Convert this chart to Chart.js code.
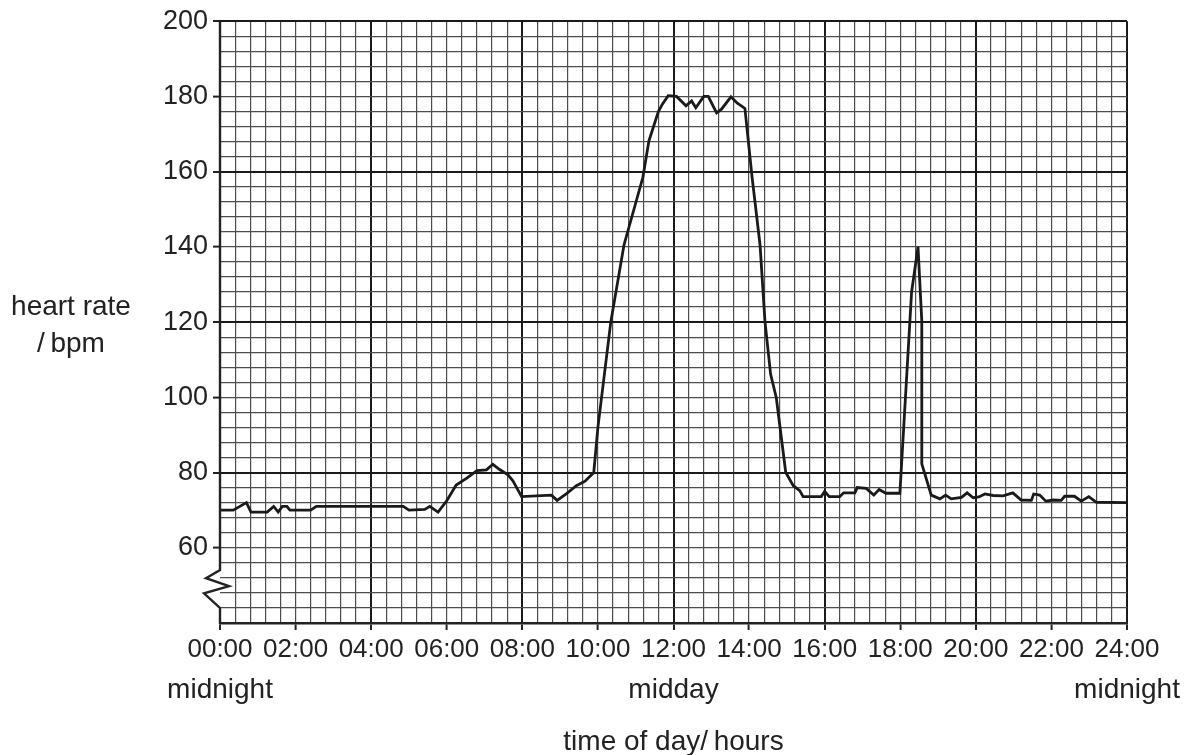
<!DOCTYPE html>
<html>
<head>
<meta charset="utf-8">
<title>heart rate over a day</title>
<script src="https://cdn.jsdelivr.net/npm/chart.js"></script>
<style>
  html, body { margin: 0; padding: 0; background: #fff; }
  canvas { display: block; }
</style>
</head>
<body>
<canvas id="hr" width="1194" height="755"></canvas>
<script>
// time of day in hours
const hours = [
  0, 0.35, 0.7, 0.82, 1.25, 1.42, 1.54, 1.65, 1.77, 1.85, 2.4, 2.55, 4.85, 5.0, 5.42, 5.55, 5.77,
  6.0, 6.25, 6.54, 6.8, 7.05, 7.22, 7.4, 7.62, 7.75, 7.98, 8.77, 8.92, 9.17, 9.43, 9.66, 9.89,
  10.0, 10.34, 10.69, 11.19, 11.35, 11.6, 11.71, 11.86, 12.08, 12.33, 12.48, 12.59, 12.8, 12.92,
  13.14, 13.27, 13.52, 13.69, 13.89, 14.08, 14.29, 14.42, 14.57, 14.72, 14.97, 15.17, 15.34, 15.43,
  15.91, 16.0, 16.12, 16.4, 16.5, 16.8, 16.86, 17.1, 17.3, 17.44, 17.62, 17.99, 18.3, 18.47,
  18.57, 18.57, 18.82, 19.05, 19.2, 19.35, 19.62, 19.77, 19.93, 20.08, 20.24, 20.46, 20.72, 20.98,
  21.2, 21.47, 21.53, 21.69, 21.85, 22.05, 22.26, 22.35, 22.61, 22.79, 22.99, 23.19, 24
];
// heart rate in bpm at each of those times
const bpm = [
  70, 70, 72, 69.5, 69.5, 71, 69.5, 71, 71, 70, 70, 71, 71, 70, 70.2, 71, 69.5,
  72.5, 76.7, 78.6, 80.5, 80.7, 82.2, 80.8, 79.4, 77.8, 73.6, 74, 72.6, 74.4, 76.5, 77.7, 80,
  92, 120, 140.5, 158.5, 168.2, 176, 178, 180.2, 180, 177.5, 178.8, 177, 180, 180,
  175.6, 176.6, 179.9, 178.2, 176.8, 158.5, 140.5, 120.2, 106.1, 99.9, 80, 76.5, 75.2, 73.6,
  73.6, 75, 73.6, 73.6, 74.6, 74.6, 76, 75.8, 74, 75.5, 74.5, 74.5, 128, 140,
  120.3, 82.3, 74, 73, 74, 73, 73.4, 74.6, 73.3, 73.5, 74.3, 73.9, 73.8, 74.6,
  72.7, 72.6, 74.3, 74, 72.4, 72.7, 72.6, 73.7, 73.7, 72.4, 73.6, 72.1, 72
];

// axis ranges and labels
const xMin = 0, xMax = 24, xLabelStep = 2, xMinorStep = 0.4;
const yMin = 40, yMax = 200, yLabelStep = 20, yMinorStep = 4;
const yLabelFrom = 60;
const xSideLabels = [[0, 'midnight'], [12, 'midday'], [24, 'midnight']];
const xTitle = 'time of day/\u2009hours';
const yTitle = ['heart rate', '/\u2009bpm'];

const FONT = '"Liberation Sans", Arial, sans-serif';
const INK = '#222';
const MINOR = '#4d4d4d';

function near(v, step) {
  const q = v / step;
  return Math.abs(q - Math.round(q)) < 1e-6;
}

function stepTicks(min, max, step) {
  const out = [];
  const n = Math.round((max - min) / step);
  for (let i = 0; i <= n; i++) out.push({ value: +(min + i * step).toFixed(6) });
  return out;
}

// y axis drawn by hand so it can carry the break zigzag
const axisBreak = {
  id: 'axisBreak',
  afterDraw(chart) {
    const { ctx, scales: { x, y } } = chart;
    const x0 = x.getPixelForValue(xMin);
    ctx.save();
    ctx.strokeStyle = INK;
    ctx.lineWidth = 2.4;
    ctx.lineJoin = 'miter';
    ctx.beginPath();
    ctx.moveTo(x0, y.getPixelForValue(yMax));
    ctx.lineTo(x0, y.getPixelForValue(54.1));
    ctx.lineTo(x0 - 14, y.getPixelForValue(51.9));
    ctx.lineTo(x0 + 9, y.getPixelForValue(49.8));
    ctx.lineTo(x0 - 16, y.getPixelForValue(47.9));
    ctx.lineTo(x0, y.getPixelForValue(44));
    ctx.lineTo(x0, y.getPixelForValue(yMin) + 1);
    ctx.stroke();
    ctx.restore();
  }
};

const extraText = {
  id: 'extraText',
  afterDraw(chart) {
    const { ctx, chartArea, scales: { x } } = chart;
    ctx.save();
    ctx.fillStyle = INK;
    ctx.font = '28px ' + FONT;
    ctx.textAlign = 'center';
    ctx.textBaseline = 'alphabetic';
    xSideLabels.forEach(([v, t]) => {
      ctx.fillText(t, x.getPixelForValue(v), chartArea.bottom + 75);
    });
    ctx.fillText(xTitle, x.getPixelForValue(12), chartArea.bottom + 127);
    ctx.fillText(yTitle[0], 71, 315);
    ctx.fillText(yTitle[1], 71, 352);
    ctx.restore();
  }
};

new Chart(document.getElementById('hr'), {
  type: 'line',
  data: {
    datasets: [{
      data: hours.map((h, i) => ({ x: h, y: bpm[i] })),
      borderColor: '#1a1a1a',
      borderWidth: 2.8,
      pointRadius: 0,
      tension: 0,
      fill: false
    }]
  },
  options: {
    responsive: false,
    animation: false,
    devicePixelRatio: 1,
    layout: { padding: { top: 18, right: 67, left: 0, bottom: 0 } },
    plugins: { legend: { display: false }, tooltip: { enabled: false } },
    scales: {
      x: {
        type: 'linear',
        min: xMin,
        max: xMax,
        afterBuildTicks: s => { s.ticks = stepTicks(xMin, xMax, xMinorStep); },
        afterFit: s => { s.height = 132; },
        border: { display: true, color: INK, width: 2.4 },
        grid: {
          color: c => c.tick.value === xMin ? 'rgba(0,0,0,0)' : (near(c.tick.value, 4) ? '#1a1a1a' : MINOR),
          lineWidth: c => near(c.tick.value, 4) ? 2 : 1.2,
          tickColor: c => near(c.tick.value, xLabelStep) ? INK : 'rgba(0,0,0,0)',
          tickLength: 7,
          tickWidth: 2
        },
        ticks: {
          autoSkip: false,
          maxRotation: 0,
          padding: 4,
          color: INK,
          font: { family: FONT, size: 26 },
          callback: v => near(v, xLabelStep) ? String(Math.round(v)).padStart(2, '0') + ':00' : ''
        }
      },
      y: {
        type: 'linear',
        min: yMin,
        max: yMax,
        afterBuildTicks: s => { s.ticks = stepTicks(yMin, yMax, yMinorStep); },
        afterFit: s => { s.width = 220; },
        border: { display: false },
        grid: {
          color: c => near(c.tick.value - yMin, 40) ? '#1a1a1a' : MINOR,
          lineWidth: c => near(c.tick.value - yMin, 40) ? 2 : 1.2,
          tickColor: c => (near(c.tick.value, yLabelStep) && c.tick.value >= yLabelFrom) ? INK : 'rgba(0,0,0,0)',
          tickLength: 7,
          tickWidth: 2
        },
        ticks: {
          autoSkip: false,
          padding: 5,
          color: INK,
          font: { family: FONT, size: 27 },
          callback: v => (near(v, yLabelStep) && v >= yLabelFrom) ? String(Math.round(v)) : ''
        }
      }
    }
  },
  plugins: [axisBreak, extraText]
});
</script>
</body>
</html>
